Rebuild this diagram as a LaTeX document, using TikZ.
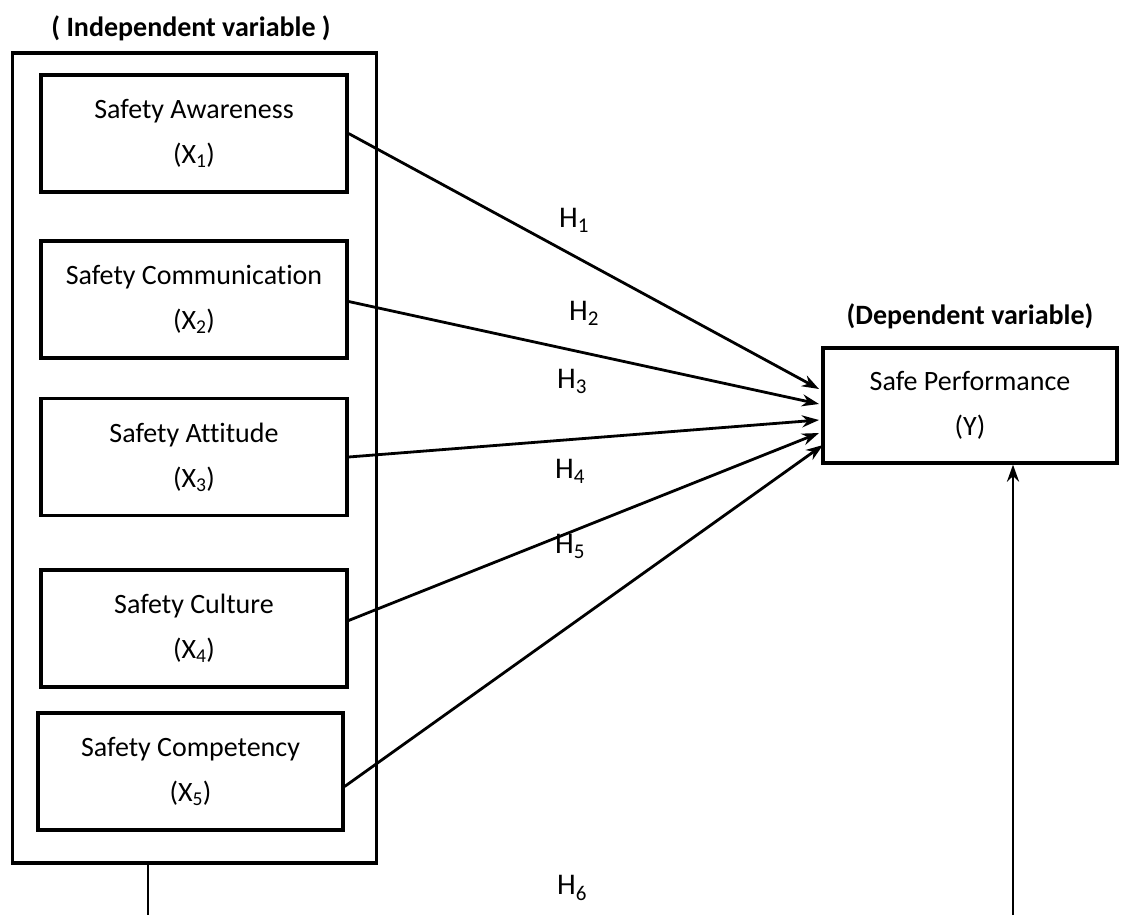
\documentclass[tikz,border=0pt]{standalone}
\usepackage{fontspec}
\setmainfont{Carlito}[Ligatures=NoCommon]
\usetikzlibrary{arrows.meta,calc}
\begin{document}
\begin{tikzpicture}[x=1pt,y=-1pt,
  varbox/.style={draw,line width=3.2pt,minimum width=306pt,minimum height=117pt,align=center,inner sep=0pt,font=\fontsize{28}{45}\selectfont},
  outerbox/.style={draw,line width=3.2pt,minimum width=364pt,minimum height=810pt,inner sep=0pt},
  hlabel/.style={font=\fontsize{30}{34}\selectfont},
  title/.style={font=\bfseries\fontsize{28}{32}\selectfont},
  link/.style={line width=2.8pt,-{Stealth[length=17pt,width=12pt]}},
  plain/.style={line width=2.8pt}]
\useasboundingbox (0,0) rectangle (1121,915);
\fill[white] (0,0) rectangle (1121,915);
\node[title] (t1) at (191,28) {( Independent variable )};
\node[title] (t2) at (970,316) {(Dependent variable)};
\node[outerbox] (outer) at (194.5,458) {};
\node[varbox] (x1) at (194,133.5) {Safety Awareness\\(X\textsubscript{1})};
\node[varbox] (x2) at (194,299.5) {Safety Communication\\(X\textsubscript{2})};
\node[varbox] (x3) at (194,457) {Safety Attitude\\(X\textsubscript{3})};
\node[varbox] (x4) at (194,628.5) {Safety Culture\\(X\textsubscript{4})};
\node[varbox,minimum width=305pt] (x5) at (190.5,771.5) {Safety Competency\\(X\textsubscript{5})};
\node[varbox,minimum width=294pt,minimum height=115pt] (y) at (970,405.5) {Safe Performance\\(Y)};
\coordinate (e1) at (819,389);
\coordinate (e2) at (819,404);
\coordinate (e3) at (819,420);
\coordinate (e4) at (819,433);
\coordinate (e5) at (823,445);
\draw[link] (x1.east) -- (e1);
\draw[link] ($(x2.east)+(0,2)$) -- (e2);
\draw[link] (x3.east) -- (e3);
\draw[link] ($(x4.east)+(0,-8)$) -- (e4);
\draw[link] ($(x5.east)+(0,15)$) -- (e5);
\node[hlabel] (h1) at (574,220) {H\textsubscript{1}};
\node[hlabel] (h2) at (584,313) {H\textsubscript{2}};
\node[hlabel] (h3) at (572,381) {H\textsubscript{3}};
\node[hlabel] (h4) at (570,471) {H\textsubscript{4}};
\node[hlabel] (h5) at (570,546) {H\textsubscript{5}};
\node[hlabel] (h6) at (572,888) {H\textsubscript{6}};
\coordinate (b1) at (148,915);
\coordinate (b2) at (1013,915);
\draw[plain] (outer.south -| b1) -- (b1);
\draw[link] (b2) -- (y.south -| b2);
\end{tikzpicture}
\end{document}
